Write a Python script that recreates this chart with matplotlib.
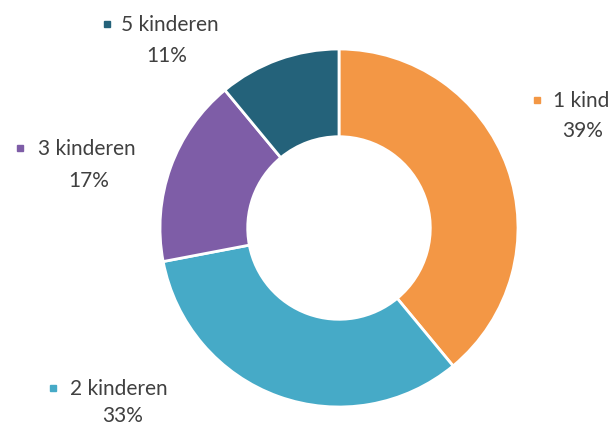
import matplotlib
matplotlib.use("Agg")
import matplotlib.pyplot as plt
from matplotlib.lines import Line2D

# Data
categories = ["1 kind", "2 kinderen", "3 kinderen", "5 kinderen"]
values = [39, 33, 17, 11]
colors = ["#F39745", "#46AAC7", "#7E5DA7", "#24627A"]

W, H = 615, 427
fig = plt.figure(figsize=(W / 100, H / 100), dpi=100)
fig.patch.set_facecolor("white")
plt.rcParams["font.family"] = ["Lato", "DejaVu Sans"]

# donut axes: center (339, 229) px, radius 179 px
cx, cy, r = 339, 229, 179
ax = fig.add_axes([(cx - r) / W, (H - cy - r) / H, 2 * r / W, 2 * r / H])
ax.pie(values, colors=colors, startangle=90, counterclock=False, radius=1,
       wedgeprops=dict(width=0.49, edgecolor="white", linewidth=2))
ax.set_xlim(-1, 1)
ax.set_ylim(-1, 1)
ax.set_aspect("equal")
ax.axis("off")

# label layout (pixel positions)
label_pos = {
    "1 kind": (537, 101, 553, 583, 131),
    "2 kinderen": (53, 389, 70, 123, 416),
    "3 kinderen": (20, 149, 38, 89, 181),
    "5 kinderen": (107, 25, 121, 167, 56),
}
txtcolor = "#404040"
fs = 15
for cat, val, col in zip(categories, values, colors):
    mx, my, tx, px, py = label_pos[cat]
    fig.add_artist(Line2D([mx / W], [1 - my / H], marker="s", markersize=5,
                          color=col, transform=fig.transFigure, linestyle="none"))
    fig.text(tx / W, 1 - my / H, cat, ha="left", va="center", fontsize=fs, color=txtcolor)
    fig.text(px / W, 1 - py / H, f"{val}%", ha="center", va="center", fontsize=fs, color=txtcolor)

fig.savefig("out.png", dpi=100, facecolor="white")
